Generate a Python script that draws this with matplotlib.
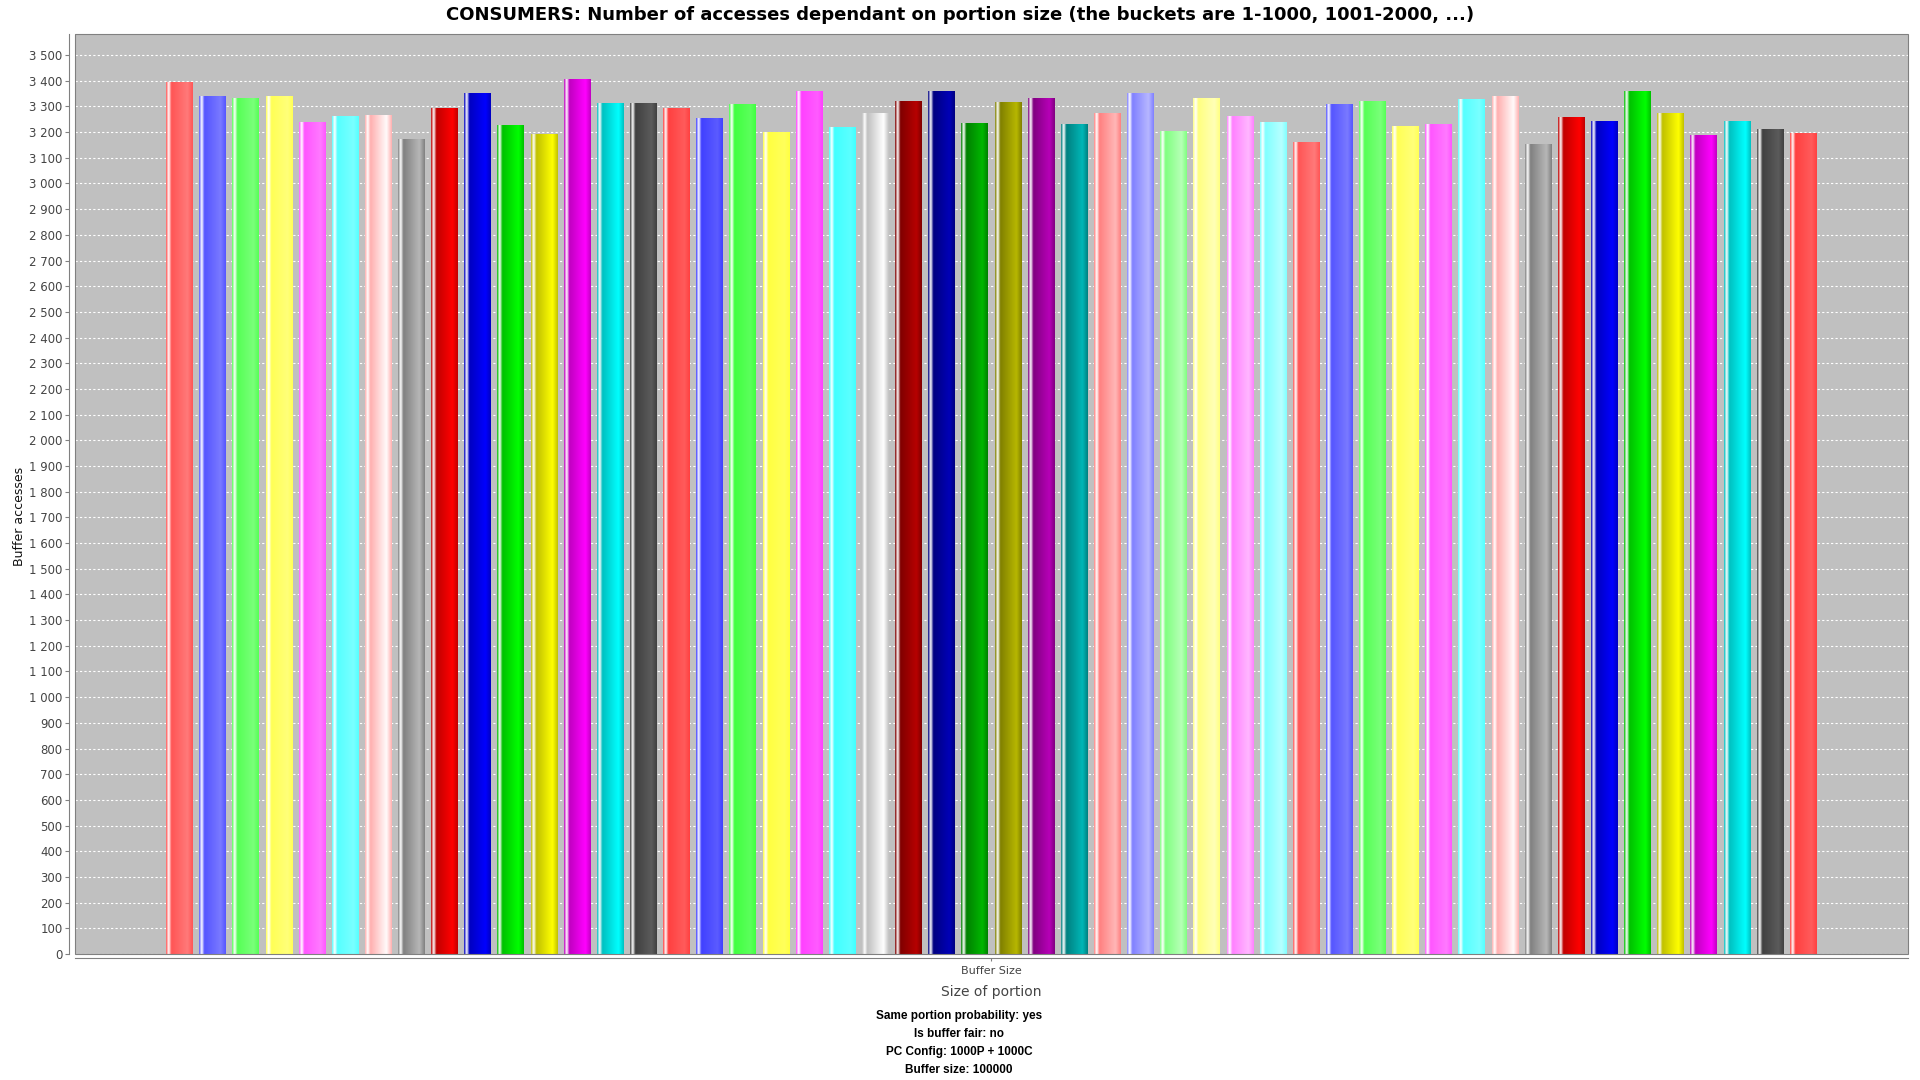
import numpy as np
import matplotlib
matplotlib.use("Agg")
import matplotlib.pyplot as plt
from matplotlib.patches import Rectangle
from matplotlib.ticker import FuncFormatter, MultipleLocator

# ---------------- data ----------------
values = [3392, 3337, 3331, 3338, 3236, 3260, 3263, 3173, 3290, 3349,
          3227, 3192, 3406, 3312, 3313, 3292, 3254, 3306, 3199, 3358,
          3217, 3271, 3318, 3358, 3235, 3314, 3331, 3231, 3274, 3349,
          3204, 3331, 3262, 3238, 3159, 3308, 3321, 3222, 3231, 3326,
          3337, 3151, 3258, 3241, 3360, 3273, 3185, 3242, 3212, 3195]
category_label = "Buffer Size"
title = "CONSUMERS: Number of accesses dependant on portion size (the buckets are 1-1000, 1001-2000, ...)"
x_title = "Size of portion"
y_title = "Buffer accesses"
subtitles = ["Same portion probability: yes", "Is buffer fair: no",
             "PC Config: 1000P + 1000C", "Buffer size: 100000"]

# JFreeChart default paint sequence (style)
palette = [
    (0xFF, 0x55, 0x55), (0x55, 0x55, 0xFF), (0x55, 0xFF, 0x55), (0xFF, 0xFF, 0x55),
    (0xFF, 0x55, 0xFF), (0x55, 0xFF, 0xFF), (255, 175, 175), (128, 128, 128),
    (0xC0, 0, 0), (0, 0, 0xC0), (0, 0xC0, 0), (0xC0, 0xC0, 0), (0xC0, 0, 0xC0),
    (0, 0xC0, 0xC0), (64, 64, 64), (0xFF, 0x40, 0x40), (0x40, 0x40, 0xFF),
    (0x40, 0xFF, 0x40), (0xFF, 0xFF, 0x40), (0xFF, 0x40, 0xFF), (0x40, 0xFF, 0xFF),
    (192, 192, 192), (0x80, 0, 0), (0, 0, 0x80), (0, 0x80, 0), (0x80, 0x80, 0),
    (0x80, 0, 0x80), (0, 0x80, 0x80), (0xFF, 0x80, 0x80), (0x80, 0x80, 0xFF),
    (0x80, 0xFF, 0x80), (0xFF, 0xFF, 0x80), (0xFF, 0x80, 0xFF), (0x80, 0xFF, 0xFF),
]


def brighter(c):
    out = []
    for v in c:
        if 0 < v < 3:
            v = 3
        out.append(min(255.0, v / 0.7) if v > 0 else 0.0)
    return tuple(out)


def gradient(c, n=200):
    c0 = np.array(c, float)
    c1 = np.array(brighter(c), float)
    w = np.array([255.0, 255.0, 255.0])
    t = np.linspace(0, 1, n)
    img = np.zeros((1, n, 3))
    for i, f in enumerate(t):
        if f < 0.10:
            a = f / 0.10
            col = c0 + (w - c0) * a
        elif f < 0.20:
            a = (f - 0.10) / 0.10
            col = w + (c0 - w) * a
        elif f < 0.80:
            a = (f - 0.20) / 0.60
            col = c0 + (c1 - c0) * a
        else:
            a = (f - 0.80) / 0.20
            col = c1 + (c0 - c1) * a
        img[0, i] = col / 255.0
    return img


fig = plt.figure(figsize=(19.2, 10.8), dpi=100)
fig.patch.set_facecolor("white")
ax = fig.add_axes([75 / 1920, 126 / 1080, 1833 / 1920, 920 / 1080])
ax.set_facecolor("#C0C0C0")

x = np.arange(len(values))
width = 0.786

bars = ax.bar(x, values, width=width, color="none", edgecolor="none", zorder=2)
for i, (b, v) in enumerate(zip(bars, values)):
    col = palette[i % len(palette)]
    l = b.get_x()
    ax.imshow(gradient(col), extent=(l, l + b.get_width(), 0, v),
              aspect="auto", interpolation="bilinear", zorder=2)
ax.set_xlim(x[0] - width / 2 - 2.75, x[-1] + width / 2 + 2.78)
ax.set_ylim(0, 3582)

# grid
ax.yaxis.set_major_locator(MultipleLocator(100))
ax.grid(axis="y", color="white", linestyle=(0, (2, 2)), linewidth=0.8, zorder=1)
ax.set_axisbelow(True)

fmt = FuncFormatter(lambda v, p: f"{int(v):,}".replace(",", " "))
ax.yaxis.set_major_formatter(fmt)
ax.tick_params(axis="y", labelsize=8.5, colors="#808080", labelcolor="#444444",
               length=3, width=0.8, direction="out", pad=2)

ax.set_xticks([x.mean()])
ax.set_xticklabels([category_label])
ax.tick_params(axis="x", labelsize=8, colors="#808080", labelcolor="#444444",
               length=2, width=0.8, pad=4)

for s in ["top", "right"]:
    ax.spines[s].set_visible(False)
ax.spines["left"].set_position(("outward", 4))
ax.spines["bottom"].set_position(("outward", 3))
ax.spines["left"].set_color("#808080")
ax.spines["bottom"].set_color("#808080")
ax.spines["left"].set_linewidth(0.8)
ax.spines["bottom"].set_linewidth(0.8)

ax.add_patch(Rectangle((0, 0), 1, 1, transform=ax.transAxes, fill=False,
                       edgecolor="#808080", linewidth=0.8, zorder=5, clip_on=False))

fig.text(20 / 1920, 1 - 516 / 1080, y_title, rotation=90, ha="center", va="center",
         fontsize=9, color="#111111")
ax.set_xlabel(x_title, fontsize=10, color="#444444", labelpad=6)

fig.text(960 / 1920, 1 - 15 / 1080, title, ha="center", va="center",
         fontsize=13, fontweight="bold", color="black")

sub_y = [1016, 1034, 1052, 1070]
for t, yy in zip(subtitles, sub_y):
    fig.text(959 / 1920, 1 - yy / 1080, t, ha="center", va="center",
             fontsize=8.5, fontweight="bold", color="black",
             family="Liberation Sans")

fig.savefig("out.png", dpi=100, facecolor="white")
